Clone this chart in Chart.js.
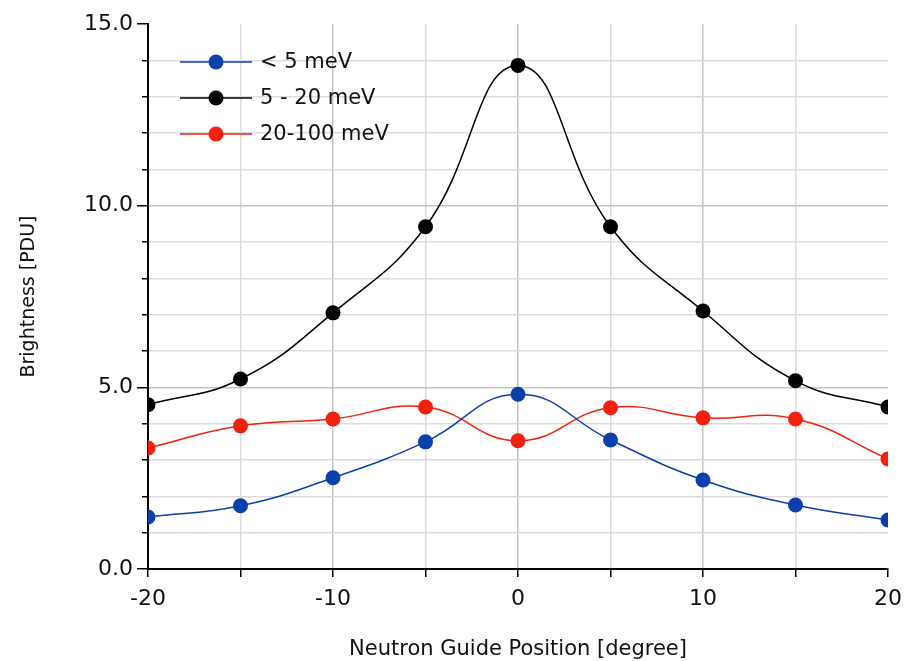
<!DOCTYPE html>
<html>
<head>
<meta charset="utf-8">
<script src="https://cdn.jsdelivr.net/npm/chart.js@4/dist/chart.umd.min.js"></script>
<style>
  html, body { margin: 0; padding: 0; background: #fff; }
  #wrap { width: 906px; height: 661px; }
</style>
</head>
<body>
<div id="wrap"><canvas id="chartBrightness" width="906" height="661"></canvas></div>
<script>
// posisi pemandu neutron (derajat)
const posisi = [-20, -15, -10, -5, 0, 5, 10, 15, 20];
// kecerahan per rentang energi
const energiRendah = [1.43, 1.74, 2.51, 3.50, 4.81, 3.55, 2.45, 1.76, 1.35];   // < 5 meV
const energiSedang = [4.52, 5.23, 7.05, 9.42, 13.86, 9.42, 7.10, 5.18, 4.46];  // 5 - 20 meV
const energiTinggi = [3.33, 3.94, 4.13, 4.46, 3.53, 4.44, 4.16, 4.13, 3.03];   // 20-100 meV
const labelSeri = ['< 5 meV', '5 - 20 meV', '20-100 meV'];
const warnaSeri = ['#0b3fae', '#000000', '#f2200c'];
const seriData = [energiRendah, energiSedang, energiTinggi];

const FONT = '"DejaVu Sans", sans-serif';

// legend custom: garis + titik seperti di grafik asli
const legendGaris = {
  id: 'legendGaris',
  afterDraw(chart) {
    const c = chart.ctx;
    const x0 = chart.chartArea.left + 32;
    let y = chart.chartArea.top + 38;
    c.save();
    chart.data.datasets.forEach(ds => {
      c.strokeStyle = ds.borderColor;
      c.lineWidth = 1.5;
      c.beginPath();
      c.moveTo(x0, y);
      c.lineTo(x0 + 72, y);
      c.stroke();
      c.fillStyle = ds.backgroundColor;
      c.beginPath();
      c.arc(x0 + 36, y, 7.5, 0, Math.PI * 2);
      c.fill();
      c.fillStyle = '#111';
      c.font = '21px ' + FONT;
      c.textBaseline = 'middle';
      c.fillText(ds.label, x0 + 80, y + 1);
      y += 36;
    });
    c.restore();
  }
};

// garis grid: utama lebih gelap, tepi atas/kanan tidak digambar
const warnaGridX = c => {
  if (!c.tick || c.tick.value === 20) return 'rgba(0,0,0,0)';
  return c.tick.value % 10 === 0 ? '#c4c4c4' : '#dcdcdc';
};
const warnaGridY = c => {
  if (!c.tick || c.tick.value === 15) return 'rgba(0,0,0,0)';
  return c.tick.value % 5 === 0 ? '#c4c4c4' : '#dcdcdc';
};
// tick minor sumbu Y lebih pendek (dash dimulai dengan celah)
const utamaY = c => c.tick && c.tick.value % 5 === 0;

const ctx = document.getElementById('chartBrightness').getContext('2d');
new Chart(ctx, {
  type: 'line',
  data: {
    datasets: seriData.map((d, i) => ({
      label: labelSeri[i],
      data: posisi.map((x, j) => ({ x: x, y: d[j] })),
      borderColor: warnaSeri[i],
      backgroundColor: warnaSeri[i],
      borderWidth: 1.5,
      pointRadius: 7.5,
      pointBorderWidth: 0,
      tension: 0.45
    }))
  },
  options: {
    responsive: false,
    animation: false,
    layout: { padding: { top: 24, right: 18, left: 0, bottom: 0 } },
    plugins: { legend: { display: false }, tooltip: { enabled: false } },
    scales: {
      x: {
        type: 'linear',
        min: -20, max: 20,
        border: { color: '#000', width: 2 },
        grid: {
          color: warnaGridX,
          tickColor: '#000',
          tickLength: 8,
          lineWidth: 1.5
        },
        ticks: {
          stepSize: 5,
          color: '#111',
          font: { family: FONT, size: 22 },
          padding: 9,
          callback: v => (v % 10 === 0 ? String(v) : '')
        },
        title: {
          display: true,
          text: 'Neutron Guide Position [degree]',
          color: '#111',
          font: { family: FONT, size: 21 },
          padding: { top: 15, bottom: -1 }
        },
        afterFit: s => {
          s.height = 92;
          s.paddingLeft = 0;
          s.paddingRight = 0;
        }
      },
      y: {
        min: 0, max: 15,
        border: { color: '#000', width: 2 },
        grid: {
          color: warnaGridY,
          tickColor: '#000',
          tickLength: 11,
          tickWidth: 1.5,
          tickBorderDash: c => (utamaY(c) ? [] : [6, 100]),
          tickBorderDashOffset: c => (utamaY(c) ? 0 : 101),
          lineWidth: 1.5
        },
        ticks: {
          stepSize: 1,
          autoSkip: false,
          color: '#111',
          font: { family: FONT, size: 22 },
          padding: 4,
          callback: v => (v % 5 === 0 ? v.toFixed(1) : '')
        },
        title: {
          display: true,
          text: 'Brightness [PDU]',
          color: '#111',
          font: { family: FONT, size: 19 },
          padding: { top: 18, bottom: 0 }
        },
        afterFit: s => {
          s.width = 148;
          s.paddingTop = 0;
          s.paddingBottom = 0;
        }
      }
    }
  },
  plugins: [legendGaris]
});
</script>
</body>
</html>
